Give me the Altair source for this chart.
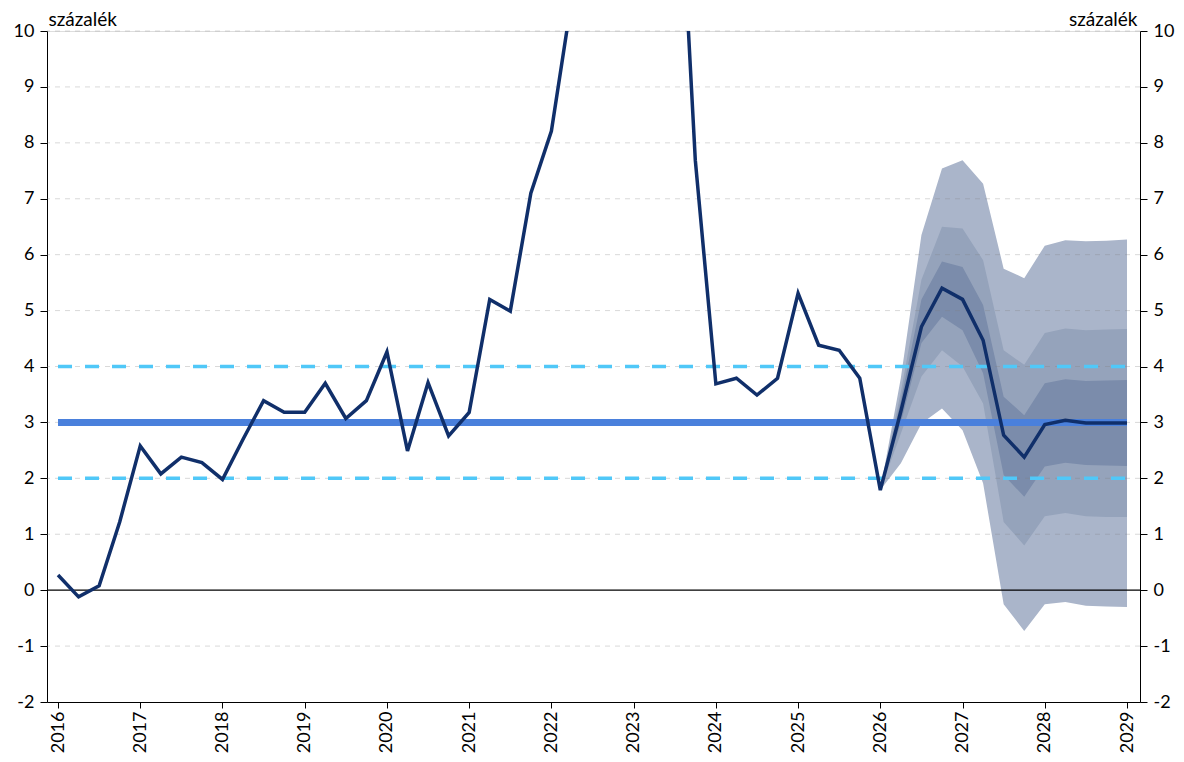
import altair as alt
import pandas as pd

# ---- data ----
years = list(range(2016, 2030))
first_year = 2016
cpi = [
    0.27, -0.12, 0.08, 1.22,   # 2016
    2.58, 2.08, 2.38, 2.28,    # 2017
    1.98, 2.70, 3.39, 3.18,    # 2018
    3.18, 3.70, 3.07, 3.39,    # 2019
    4.26, 2.49, 3.71, 2.76,    # 2020
    3.18, 5.20, 4.99, 7.10,    # 2021
    8.21, 10.6, 15.5, 22.7,    # 2022
    25.4, 21.9, 14.6, 7.69,    # 2023
    3.69, 3.79, 3.49, 3.79,    # 2024
    5.31, 4.38, 4.29, 3.79,    # 2025
    1.79, 3.20, 4.71, 5.40,    # 2026
    5.20, 4.47, 2.77, 2.38,    # 2027
    2.96, 3.04, 2.99, 2.99,    # 2028
    2.99,                      # 2029Q1
]
fan_start_index = 40  # 2026Q1
outer_upper = [1.79, 3.80, 6.35, 7.54, 7.69, 7.27, 5.75, 5.58, 6.16, 6.26, 6.24, 6.25, 6.27]
mid_upper   = [1.79, 3.55, 5.55, 6.50, 6.47, 5.90, 4.29, 4.03, 4.60, 4.68, 4.65, 4.66, 4.67]
inner_upper = [1.79, 3.40, 5.20, 5.88, 5.78, 5.10, 3.46, 3.13, 3.70, 3.77, 3.74, 3.75, 3.76]
inner_lower = [1.79, 3.00, 4.42, 4.89, 4.65, 3.88, 2.06, 1.67, 2.21, 2.28, 2.24, 2.23, 2.22]
mid_lower   = [1.79, 2.80, 3.82, 4.29, 4.00, 3.34, 1.22, 0.80, 1.32, 1.38, 1.32, 1.31, 1.31]
outer_lower = [1.79, 2.27, 2.98, 3.25, 2.86, 1.91, -0.25, -0.73, -0.25, -0.21, -0.28, -0.29, -0.30]
target = 3
tolerance = [2, 4]
grid_values = [-1, 1, 2, 3, 4, 5, 6, 7, 8, 9, 10]
y_ticks = list(range(-2, 11))
unit = "százalék"

# ---- tables ----
t_all = [first_year + i / 4 for i in range(len(cpi))]
df_line = pd.DataFrame({"t": t_all, "v": cpi})
t_fan = t_all[fan_start_index:]
df_fan = pd.DataFrame({
    "t": t_fan,
    "ou": outer_upper, "mu": mid_upper, "iu": inner_upper,
    "il": inner_lower, "ml": mid_lower, "ol": outer_lower,
})
df_target = pd.DataFrame({"x": [years[0]], "x2": [years[-1]], "y": [target]})
df_tol = pd.DataFrame({"x": [years[0]] * 2, "x2": [years[-1]] * 2, "y": tolerance})
df_grid = pd.DataFrame({"y": grid_values})
df_zero = pd.DataFrame({"y": [0]})

FONT = "Lato"
xdom = [2015.866, 2029.158]
ydom = [-2, 10]

x_axis = alt.Axis(values=years, format="d", labelAngle=-90, grid=False, tickSize=6,
                  labelPadding=3, title=None, domainColor="black", tickColor="black",
                  labelFontSize=18, labelFont=FONT, labelColor="black")
y_axis_left = alt.Axis(values=y_ticks, grid=False, tickSize=7, labelPadding=6,
                       labelExpr="toString(datum.value)",
                       domainColor="black", tickColor="black", labelFontSize=18,
                       labelFont=FONT, labelColor="black", title=unit, titleAngle=0,
                       titleAlign="left", titleBaseline="alphabetic", titleX=1, titleY=-6,
                       titleFont=FONT, titleFontSize=19, titleFontWeight="normal",
                       titleColor="black")
y_axis_right = alt.Axis(values=y_ticks, grid=False, tickSize=7, labelPadding=6, orient="right",
                        labelExpr="toString(datum.value)",
                        domainColor="black", tickColor="black", labelFontSize=18,
                        labelFont=FONT, labelColor="black", title=unit, titleAngle=0,
                        titleAlign="right", titleBaseline="alphabetic", titleX=-3, titleY=-6,
                        titleFont=FONT, titleFontSize=19, titleFontWeight="normal",
                        titleColor="black")

xs = alt.Scale(domain=xdom, nice=False, zero=False)
ys = alt.Scale(domain=ydom, nice=False, zero=False)


def X(field):
    return alt.X(field, type="quantitative", scale=xs, axis=x_axis)


def Y(field):
    return alt.Y(field, type="quantitative", scale=ys, axis=y_axis_left)


fan = alt.Chart(df_fan)
outer = fan.mark_area(color="#aab5ca", opacity=1).encode(x=X("t"), y=Y("ol"), y2="ou")
mid = fan.mark_area(color="#95a3bb", opacity=1).encode(x=X("t"), y=Y("ml"), y2="mu")
inner = fan.mark_area(color="#7b8cab", opacity=1).encode(x=X("t"), y=Y("il"), y2="iu")

grid = alt.Chart(df_grid).mark_rule(color="#808080", opacity=0.3, strokeDash=[5, 5],
                                    strokeWidth=1).encode(y=Y("y"))
zero = alt.Chart(df_zero).mark_rule(color="black", strokeWidth=1.2).encode(y=Y("y"))
tol = alt.Chart(df_tol).mark_rule(color="#50c8f8", strokeWidth=3.5,
                                  strokeDash=[14, 13]).encode(x=X("x"), x2="x2", y=Y("y"))
tgt = alt.Chart(df_target).mark_rule(color="#4a80dc", strokeWidth=7).encode(
    x=X("x"), x2="x2", y=Y("y"))
line = alt.Chart(df_line).mark_line(color="#102f6a", strokeWidth=3.5, clip=True,
                                    strokeJoin="miter").encode(x=X("t"), y=Y("v"))

left_layer = alt.layer(outer, mid, inner, grid, zero, tol, tgt, line)

right_layer = alt.Chart(df_zero).mark_point(opacity=0).encode(
    y=alt.Y("y", type="quantitative", scale=alt.Scale(domain=ydom, nice=False, zero=False),
            axis=y_axis_right))

chart = alt.layer(left_layer, right_layer).resolve_scale(y="independent").properties(
    width=1093, height=671,
    autosize=alt.AutoSizeParams(type="none"),
    padding={"left": 39, "top": 23, "right": 36, "bottom": 52},
).configure_view(stroke=None).configure(font=FONT)

chart.save("out.html", embed_options={"renderer": "svg", "actions": False})
